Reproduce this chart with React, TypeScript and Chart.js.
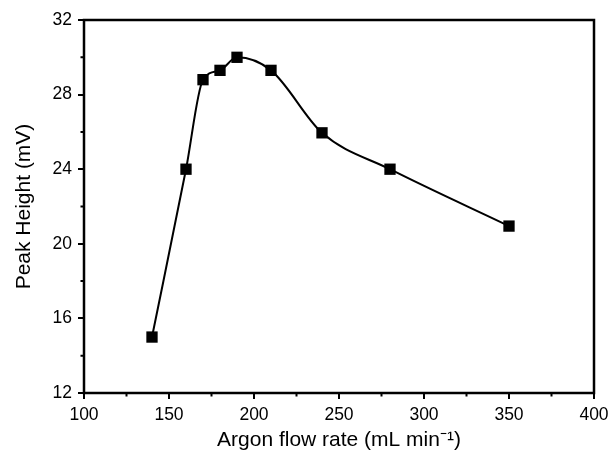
import React, { useEffect, useRef } from 'react';
import { Chart, registerables } from 'chart.js';

Chart.register(...registerables);

const flowRates = [140, 160, 170, 180, 190, 210, 240, 280, 350];
const peakHeights = [15.0, 24.0, 28.8, 29.3, 30.0, 29.3, 25.95, 24.0, 20.95];
const xMinorTicks = [125, 175, 225, 275, 325, 375];
const yMinorTicks = [14, 18, 22, 26, 30];

const FONT = 'Liberation Sans, Arial, Helvetica, sans-serif';

const framePlugin = {
  id: 'frame',
  afterDraw(chart: any) {
    const { ctx, chartArea: a, scales } = chart;
    ctx.save();
    ctx.strokeStyle = '#000';
    ctx.lineWidth = 2;
    ctx.beginPath();
    xMinorTicks.forEach((v) => {
      const px = scales.x.getPixelForValue(v);
      ctx.moveTo(px, a.bottom);
      ctx.lineTo(px, a.bottom + 3.5);
    });
    yMinorTicks.forEach((v) => {
      const py = scales.y.getPixelForValue(v);
      ctx.moveTo(a.left, py);
      ctx.lineTo(a.left - 3.5, py);
    });
    ctx.stroke();
    ctx.lineWidth = 2.5;
    ctx.strokeRect(a.left, a.top, a.right - a.left, a.bottom - a.top);
    ctx.restore();
  },
};

export default function App() {
  const ref = useRef<HTMLCanvasElement>(null);
  useEffect(() => {
    if (!ref.current) return;
    const chart = new Chart(ref.current, {
      type: 'line',
      data: {
        datasets: [
          {
            data: flowRates.map((x, i) => ({ x, y: peakHeights[i] })),
            borderColor: '#000',
            backgroundColor: '#000',
            borderWidth: 2,
            cubicInterpolationMode: 'monotone',
            pointStyle: 'rect',
            pointRadius: 8,
            pointBorderWidth: 0,
            pointBackgroundColor: '#000',
            fill: false,
          },
        ],
      },
      options: {
        responsive: false,
        animation: false,
        layout: { padding: { top: 20, right: 14, left: 0, bottom: 0 } },
        plugins: { legend: { display: false }, tooltip: { enabled: false } },
        scales: {
          x: {
            type: 'linear',
            min: 100,
            max: 400,
            ticks: { stepSize: 50, color: '#000', font: { family: FONT, size: 17.5 }, padding: 6, maxRotation: 0 },
            grid: { drawOnChartArea: false, drawTicks: true, tickLength: 6, color: '#000', lineWidth: 2 },
            border: { display: false },
            title: {
              display: true,
              text: 'Argon flow rate (mL min\u207B\u00B9)',
              color: '#000',
              font: { family: FONT, size: 21 },
              padding: { top: 0, bottom: 1 },
            },
            afterFit: (s: any) => {
              s.height = 61;
              s.paddingLeft = 0;
              s.paddingRight = 0;
            },
          },
          y: {
            type: 'linear',
            min: 12,
            max: 32,
            ticks: { stepSize: 4, color: '#000', font: { family: FONT, size: 17.5 }, padding: 6 },
            grid: { drawOnChartArea: false, drawTicks: true, tickLength: 6, color: '#000', lineWidth: 2 },
            border: { display: false },
            title: {
              display: true,
              text: 'Peak Height (mV)',
              color: '#000',
              font: { family: FONT, size: 21 },
              padding: { top: 12, bottom: 0 },
            },
            afterFit: (s: any) => {
              s.width = 84;
              s.paddingTop = 0;
              s.paddingBottom = 0;
            },
          },
        },
      },
      plugins: [framePlugin],
    });
    return () => chart.destroy();
  }, []);
  return (
    <div style={{ position: 'absolute', left: 0, top: 0, width: 608, height: 454, background: '#fff' }}>
      <canvas ref={ref} width={608} height={454} />
    </div>
  );
}
